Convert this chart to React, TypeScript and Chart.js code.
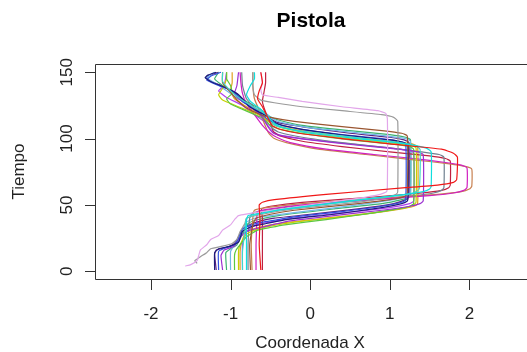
import React, { useEffect, useRef } from "react";
import { Chart, registerables } from "chart.js";

Chart.register(...registerables);

// Each curve: [tiempo, coordenadaX] pairs
const curveRed: [number, number][] = [
  [1, -0.62], [20, -0.64], [40, -0.63], [50, -0.64], [52, -0.6], [54, -0.45], [58, 0.2], [63, 1.2], [65, 1.6], [67, 1.8], [69, 1.84], [86, 1.85], [89, 1.8], [92, 1.65], [96, 1.0], [100, 0.4], [104, -0.15], [107, -0.38], [110, -0.48], [118, -0.55], [124, -0.6], [130, -0.66], [136, -0.64], [142, -0.6], [150, -0.62],
];
const curveCyan: [number, number][] = [
  [1, -0.8], [20, -0.8], [38, -0.8], [42, -0.78], [44, -0.6], [47, -0.3], [53, 0.5], [58, 1.2], [60, 1.42], [62, 1.5], [64, 1.52], [90, 1.52], [93, 1.45], [96, 1.2], [100, 0.6], [104, 0.0], [108, -0.32], [111, -0.44], [116, -0.52], [122, -0.62], [128, -0.75], [133, -0.8], [140, -0.75], [145, -0.7], [150, -0.7],
];
const curveTurquoise: [number, number][] = [
  [1, -0.85], [15, -0.85], [30, -0.82], [40, -0.8], [43, -0.65], [46, -0.4], [52, 0.4], [57, 1.1], [59, 1.3], [62, 1.37], [92, 1.38], [95, 1.3], [98, 1.0], [102, 0.4], [106, -0.15], [109, -0.4], [112, -0.5], [118, -0.55], [124, -0.72], [130, -0.88], [136, -1.0], [143, -1.1], [150, -1.1],
];
const curvePlum: [number, number][] = [
  [4, -1.57], [5, -1.5], [8, -1.42], [12, -1.4], [16, -1.38], [20, -1.3], [24, -1.25], [27, -1.15], [31, -1.1], [35, -1.0], [39, -0.95], [42, -0.9], [45, -0.6], [50, 0.0], [55, 0.6], [58, 0.88], [60, 0.96], [65, 0.97], [115, 0.97], [119, 0.95], [121, 0.85], [124, 0.4], [128, -0.1], [131, -0.4], [133, -0.6], [137, -0.62], [142, -0.6], [150, -0.62],
];
const curveGray: [number, number][] = [
  [6, -1.42], [8, -1.45], [11, -1.38], [14, -1.3], [17, -1.25], [19, -1.1], [21, -0.98], [24, -0.92], [30, -0.88], [36, -0.82], [40, -0.8], [43, -0.6], [47, -0.2], [52, 0.6], [56, 1.0], [58, 1.08], [60, 1.1], [113, 1.1], [116, 1.05], [118, 0.9], [121, 0.4], [124, -0.1], [127, -0.45], [129, -0.62], [133, -0.7], [140, -0.72], [150, -0.72],
];
const curveBrown: [number, number][] = [
  [1, -0.75], [20, -0.76], [35, -0.72], [40, -0.68], [43, -0.5], [46, -0.2], [51, 0.6], [55, 1.1], [57, 1.2], [59, 1.22], [102, 1.22], [104, 1.15], [106, 0.9], [109, 0.4], [113, -0.2], [116, -0.5], [118, -0.62], [123, -0.8], [128, -0.9], [135, -1.0], [142, -1.1], [150, -1.1],
];
const curveNavy: [number, number][] = [
  [1, -1.2], [14, -1.2], [17, -1.15], [19, -1.0], [22, -0.9], [30, -0.85], [34, -0.72], [36, -0.55], [39, -0.3], [43, 0.3], [48, 0.9], [51, 1.15], [53, 1.22], [56, 1.23], [95, 1.23], [97, 1.18], [99, 1.0], [102, 0.5], [106, 0.0], [110, -0.35], [113, -0.47], [117, -0.55], [124, -0.76], [133, -0.9], [138, -1.05], [143, -1.25], [146, -1.32], [148, -1.28], [150, -1.18],
];
const curveBlue: [number, number][] = [
  [1, -1.15], [15, -1.15], [18, -1.05], [20, -0.95], [25, -0.9], [32, -0.85], [36, -0.68], [38, -0.5], [41, -0.2], [45, 0.4], [49, 0.9], [52, 1.15], [54, 1.2], [96, 1.2], [98, 1.12], [100, 0.9], [103, 0.4], [107, -0.1], [111, -0.42], [114, -0.52], [120, -0.65], [128, -0.85], [135, -0.95], [140, -1.15], [144, -1.3], [147, -1.25], [150, -1.12],
];
const curvePurple: [number, number][] = [
  [1, -1.1], [12, -1.12], [16, -1.08], [19, -0.95], [24, -0.9], [30, -0.8], [33, -0.62], [35, -0.48], [38, -0.25], [42, 0.3], [46, 0.9], [49, 1.25], [51, 1.38], [53, 1.42], [88, 1.42], [90, 1.35], [92, 1.1], [95, 0.6], [99, 0.0], [102, -0.35], [104, -0.46], [108, -0.52], [116, -0.6], [124, -0.75], [130, -0.9], [134, -0.95], [140, -0.92], [150, -0.9],
];
const curveGreen: [number, number][] = [
  [1, -0.95], [12, -0.95], [16, -0.93], [20, -0.88], [26, -0.8], [31, -0.66], [33, -0.5], [35, -0.32], [39, 0.2], [44, 0.8], [47, 1.1], [49, 1.25], [51, 1.3], [92, 1.3], [94, 1.25], [96, 1.0], [99, 0.5], [103, 0.0], [107, -0.38], [110, -0.5], [116, -0.62], [122, -0.85], [126, -1.0], [130, -1.05], [134, -0.98], [140, -1.0], [145, -1.05], [150, -1.05],
];
const curveYellowGreen: [number, number][] = [
  [1, -0.9], [15, -0.9], [20, -0.88], [28, -0.8], [32, -0.65], [34, -0.5], [37, -0.2], [41, 0.4], [45, 0.9], [48, 1.2], [50, 1.3], [52, 1.33], [93, 1.33], [95, 1.25], [97, 1.0], [100, 0.5], [104, 0.0], [108, -0.35], [111, -0.47], [118, -0.65], [124, -0.9], [129, -1.1], [133, -1.15], [138, -1.1], [145, -1.05], [150, -1.05],
];
const curveMagenta: [number, number][] = [
  [1, -0.68], [20, -0.68], [40, -0.67], [45, -0.66], [47, -0.5], [50, -0.1], [54, 0.8], [57, 1.5], [59, 1.8], [61, 1.93], [63, 1.97], [78, 1.97], [80, 1.9], [82, 1.7], [85, 1.3], [88, 0.8], [92, 0.2], [97, -0.25], [101, -0.42], [104, -0.5], [110, -0.6], [118, -0.7], [126, -0.8], [134, -0.85], [142, -0.87], [150, -0.88],
];
const curveSienna: [number, number][] = [
  [1, -0.73], [20, -0.74], [40, -0.72], [46, -0.7], [48, -0.55], [51, -0.1], [55, 0.9], [58, 1.6], [60, 1.9], [62, 2.0], [64, 2.03], [77, 2.03], [79, 1.95], [81, 1.75], [84, 1.3], [88, 0.7], [92, 0.1], [97, -0.3], [100, -0.45], [104, -0.52], [112, -0.58], [120, -0.63], [130, -0.7], [140, -0.72], [150, -0.72],
];
const curveSlate: [number, number][] = [
  [1, -0.78], [20, -0.78], [40, -0.76], [44, -0.72], [46, -0.55], [49, -0.2], [53, 0.6], [57, 1.3], [59, 1.55], [61, 1.65], [63, 1.68], [86, 1.68], [88, 1.62], [90, 1.4], [93, 1.0], [97, 0.4], [101, -0.1], [105, -0.4], [108, -0.48], [114, -0.56], [122, -0.68], [130, -0.8], [140, -0.85], [150, -0.86],
];
const curveCrimson: [number, number][] = [
  [1, -0.6], [20, -0.6], [40, -0.6], [47, -0.61], [49, -0.5], [52, -0.1], [56, 0.8], [59, 1.4], [61, 1.65], [63, 1.74], [65, 1.76], [83, 1.76], [85, 1.7], [87, 1.5], [90, 1.0], [94, 0.4], [98, -0.1], [102, -0.38], [105, -0.46], [112, -0.5], [120, -0.56], [128, -0.6], [135, -0.58], [142, -0.56], [150, -0.56],
];
const curveLightBlue: [number, number][] = [
  [1, -1.0], [15, -1.0], [18, -0.97], [22, -0.92], [30, -0.85], [37, -0.8], [40, -0.7], [42, -0.5], [45, -0.1], [50, 0.6], [54, 1.05], [56, 1.2], [58, 1.26], [98, 1.26], [100, 1.2], [102, 0.95], [105, 0.5], [108, 0.0], [112, -0.35], [115, -0.47], [120, -0.58], [128, -0.85], [136, -1.05], [142, -1.2], [146, -1.3], [148, -1.25], [150, -1.2],
];
const curveViolet: [number, number][] = [
  [1, -0.85], [20, -0.85], [30, -0.8], [35, -0.68], [37, -0.52], [40, -0.2], [44, 0.4], [48, 1.0], [51, 1.25], [53, 1.3], [89, 1.3], [91, 1.22], [93, 1.0], [96, 0.5], [100, -0.1], [103, -0.4], [106, -0.48], [112, -0.56], [118, -0.7], [125, -0.85], [131, -1.05], [136, -1.15], [140, -1.08], [150, -1.05],
];
const curveSeaGreen: [number, number][] = [
  [1, -1.05], [14, -1.06], [17, -1.0], [20, -0.92], [28, -0.85], [36, -0.78], [39, -0.65], [42, -0.4], [47, 0.3], [51, 0.9], [54, 1.15], [56, 1.24], [58, 1.26], [99, 1.26], [101, 1.2], [103, 1.0], [106, 0.5], [110, -0.1], [114, -0.4], [117, -0.52], [122, -0.62], [128, -0.8], [134, -0.95], [140, -1.1], [145, -1.2], [150, -1.15],
];
const curveDarkPurple: [number, number][] = [
  [1, -1.18], [13, -1.2], [16, -1.18], [18, -1.05], [21, -0.95], [28, -0.88], [34, -0.8], [38, -0.62], [40, -0.45], [43, 0.0], [47, 0.6], [51, 1.05], [54, 1.2], [56, 1.24], [97, 1.24], [99, 1.18], [101, 1.0], [104, 0.5], [108, 0.0], [112, -0.4], [115, -0.5], [120, -0.62], [127, -0.8], [134, -0.92], [140, -1.12], [144, -1.28], [147, -1.3], [149, -1.2], [150, -1.15],
];
const curveGold: [number, number][] = [
  [1, -0.88], [15, -0.88], [22, -0.86], [30, -0.8], [33, -0.65], [36, -0.4], [40, 0.2], [44, 0.8], [47, 1.15], [49, 1.3], [51, 1.35], [94, 1.35], [96, 1.28], [98, 1.05], [101, 0.55], [105, 0.0], [109, -0.38], [112, -0.5], [118, -0.62], [124, -0.8], [130, -0.95], [136, -1.0], [142, -0.98], [150, -0.98],
];

const curves = [
  curveRed, curveCyan, curveTurquoise, curvePlum, curveGray, curveBrown, curveNavy,
  curveBlue, curvePurple, curveGreen, curveYellowGreen, curveMagenta, curveSienna,
  curveSlate, curveCrimson, curveLightBlue, curveViolet, curveSeaGreen, curveDarkPurple, curveGold,
];
const curveColors = [
  "#f01818", "#10dede", "#40d8c8", "#e2a6ea", "#9a9a9a", "#9a5530", "#1c1c7c",
  "#3050e0", "#9b30d0", "#5cc840", "#c8d000", "#d020c0", "#c88050",
  "#708090", "#c02040", "#70b8e8", "#b040f0", "#3cb371", "#602080", "#e0a020",
];

const xTicks = [-2, -1, 0, 1, 2];
const yTicks = [0, 50, 100, 150];
const titleText = "Pistola";
const xLabel = "Coordenada X";
const yLabel = "Tiempo";

const FONT = '"Liberation Sans", Arial, Helvetica, sans-serif';

const rAxesPlugin = {
  id: "rAxes",
  afterDraw(chart: any) {
    const { ctx, chartArea, scales } = chart;
    const { left, top, bottom } = chartArea;
    const xs = scales.x;
    const ys = scales.y;
    ctx.save();
    ctx.strokeStyle = "#333";
    ctx.lineWidth = 1;
    // box (right edge lies outside the canvas)
    ctx.beginPath();
    ctx.moveTo(540, top + 0.5);
    ctx.lineTo(left + 0.5, top + 0.5);
    ctx.lineTo(left + 0.5, bottom + 0.5);
    ctx.lineTo(540, bottom + 0.5);
    ctx.stroke();

    // x axis
    ctx.beginPath();
    const xa = xs.getPixelForValue(xTicks[0]);
    const xb = xs.getPixelForValue(xTicks[xTicks.length - 1]);
    ctx.moveTo(xa, bottom + 0.5);
    ctx.lineTo(xb, bottom + 0.5);
    xTicks.forEach((v) => {
      const px = Math.round(xs.getPixelForValue(v)) + 0.5;
      ctx.moveTo(px, bottom);
      ctx.lineTo(px, bottom + 11);
    });
    ctx.stroke();

    ctx.fillStyle = "#222";
    ctx.font = `17px ${FONT}`;
    ctx.textAlign = "center";
    ctx.textBaseline = "alphabetic";
    xTicks.forEach((v) => {
      ctx.fillText(String(v), xs.getPixelForValue(v), bottom + 40);
    });

    // y axis
    ctx.beginPath();
    const ya = ys.getPixelForValue(yTicks[0]);
    const yb = ys.getPixelForValue(yTicks[yTicks.length - 1]);
    ctx.moveTo(left + 0.5, ya);
    ctx.lineTo(left + 0.5, yb);
    yTicks.forEach((v) => {
      const py = Math.round(ys.getPixelForValue(v)) + 0.5;
      ctx.moveTo(left, py);
      ctx.lineTo(left - 10, py);
    });
    ctx.stroke();

    yTicks.forEach((v) => {
      const py = ys.getPixelForValue(v);
      ctx.save();
      ctx.translate(left - 23, py);
      ctx.rotate(-Math.PI / 2);
      ctx.fillText(String(v), 0, 0);
      ctx.restore();
    });

    // axis titles
    const cx = (left + 527) / 2 - 1;
    ctx.fillText(xLabel, cx, 348);
    ctx.save();
    ctx.translate(24, (top + bottom) / 2);
    ctx.rotate(-Math.PI / 2);
    ctx.fillText(yLabel, 0, 0);
    ctx.restore();

    // main title
    ctx.fillStyle = "#000";
    ctx.font = `bold 21px ${FONT}`;
    ctx.fillText(titleText, cx + 1, 27);
    ctx.restore();
  },
};

export default function App() {
  const ref = useRef<HTMLCanvasElement | null>(null);
  useEffect(() => {
    if (!ref.current) return;
    const chart = new Chart(ref.current, {
      type: "scatter",
      data: {
        datasets: curves.map((c, i) => ({
          label: `c${i + 1}`,
          data: c.map(([t, x]) => ({ x, y: t })),
          showLine: true,
          borderColor: curveColors[i],
          backgroundColor: curveColors[i],
          borderWidth: 1.2,
          pointRadius: 0,
          tension: 0.15,
          fill: false,
        })),
      },
      options: {
        animation: false,
        responsive: false,
        devicePixelRatio: 1,
        events: [],
        layout: { padding: { left: 95, top: 64, right: 0, bottom: 73 } },
        scales: {
          x: { type: "linear", min: -2.703, max: 2.724, display: false },
          y: { type: "linear", min: -5.8, max: 156.2, display: false },
        },
        plugins: {
          legend: { display: false },
          tooltip: { enabled: false },
          title: { display: false },
        },
      },
      plugins: [rAxesPlugin],
    });
    return () => chart.destroy();
  }, []);
  return (
    <div style={{ position: "fixed", left: 0, top: 0, width: 527, height: 352, background: "#fff" }}>
      <canvas ref={ref} width={527} height={352} style={{ width: 527, height: 352, display: "block" }} />
    </div>
  );
}
